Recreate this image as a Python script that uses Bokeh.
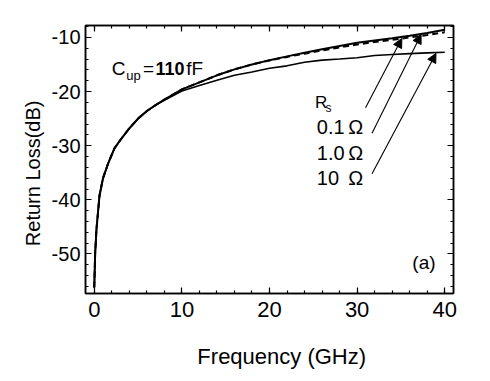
import math
from bokeh.plotting import figure
from bokeh.models import (Range1d, FixedTicker, LinearAxis, Label, Arrow, NormalHead)
from bokeh.embed import file_html
from bokeh.resources import INLINE

# ---- data ----
freq = [0, 0.1, 0.25, 0.6, 1.0, 1.6, 2.3, 3.0, 4.0, 5.0, 6.0, 7.0, 8.0,
        10, 12, 14, 16, 18, 20, 22, 24, 26, 28, 30, 32, 34, 36, 38, 40]
rl_rs01 = [-56.2, -50.0, -45.5, -39.2, -36.0, -33.2, -30.5, -28.9, -26.8, -25.0, -23.6, -22.5, -21.5,
           -19.6, -18.3, -17.0, -15.9, -15.0, -14.2, -13.5, -12.85, -12.2, -11.6, -11.0, -10.55, -10.15, -9.7, -9.2, -8.6]
rl_rs1 = [-56.2, -50.0, -45.5, -39.2, -36.0, -33.2, -30.5, -28.9, -26.8, -25.0, -23.6, -22.5, -21.5,
          -19.6, -18.3, -17.0, -15.9, -15.0, -14.25, -13.6, -13.0, -12.4, -11.85, -11.3, -10.85, -10.45, -10.0, -9.55, -9.05]
rl_rs10 = [-56.2, -50.0, -45.5, -39.2, -36.0, -33.2, -30.5, -28.9, -26.8, -25.0, -23.6, -22.5, -21.6,
           -19.9, -18.9, -17.9, -17.0, -16.4, -15.7, -15.25, -14.6, -14.2, -14.0, -13.75, -13.35, -13.15, -13.0, -12.85, -12.75]

x_ticks = [0, 10, 20, 30, 40]
y_ticks = [-50, -40, -30, -20, -10]
x_minor = [0, 2, 4, 6, 8, 10, 12, 14, 16, 18, 20, 22, 24, 26, 28, 30, 32, 34, 36, 38, 40]
y_minor = [-56, -54, -52, -50, -48, -46, -44, -42, -40, -38, -36, -34, -32, -30, -28, -26, -24, -22, -20, -18, -16, -14, -12, -10, -8]
y_tick_text = ["-50", "-40", "-30", "-20", "-10"]

rs_labels = ["0.1", "1.0", "10"]
# arrows: (tail_f, tail_dB, head_f, head_dB)
arrow_tail_f = [30.96, 31.7, 31.7]
arrow_tail_db = [-23.0, -27.7, -35.2]
arrow_head_f = [35.1, 37.3, 39.0]
arrow_head_db = [-10.2, -9.45, -12.96]

FONT = "Liberation Sans"
NB = "\u00a0"

p = figure(width=482, height=373, output_backend="svg", toolbar_location=None,
           x_range=Range1d(-1.0, 41.0), y_range=Range1d(-57.3, -7.8),
           min_border_left=85, min_border_right=29, min_border_top=25, min_border_bottom=80)
p.grid.visible = False
p.outline_line_color = "black"
p.outline_line_width = 1.5
p.background_fill_color = "white"
p.border_fill_color = "white"

def style_axis(ax, ticks, minor, show_labels, font_size, standoff):
    ax.ticker = FixedTicker(ticks=ticks, minor_ticks=minor)
    ax.major_tick_in = 6
    ax.major_tick_out = 0
    ax.minor_tick_in = 3
    ax.minor_tick_out = 0
    ax.major_tick_line_color = "black"
    ax.minor_tick_line_color = "black"
    ax.major_tick_line_width = 1.2
    ax.minor_tick_line_width = 1.2
    ax.axis_line_color = "black"
    ax.axis_line_width = 1.5
    if show_labels:
        ax.major_label_text_font = FONT
        ax.major_label_text_font_size = font_size
        ax.major_label_text_color = "black"
        ax.major_label_standoff = standoff
    else:
        ax.major_label_text_color = None
        ax.major_label_text_font_size = "1px"

style_axis(p.xaxis[0], x_ticks, x_minor, True, "22px", 8)
style_axis(p.yaxis[0], y_ticks, y_minor, True, "20px", 5)
p.yaxis[0].major_label_overrides = {t: s for t, s in zip(y_ticks, y_tick_text)}
p.yaxis[0].axis_label = "Return Loss(dB)" + NB * 5
p.yaxis[0].axis_label_text_font = FONT
p.yaxis[0].axis_label_text_font_size = "20px"
p.yaxis[0].axis_label_text_font_style = "normal"
p.yaxis[0].axis_label_text_color = "black"
p.yaxis[0].axis_label_standoff = 5

p.xaxis[0].axis_label = NB * 4 + "Frequency (GHz)"
p.xaxis[0].axis_label_text_font = FONT
p.xaxis[0].axis_label_text_font_size = "22px"
p.xaxis[0].axis_label_text_font_style = "normal"
p.xaxis[0].axis_label_text_color = "black"
p.xaxis[0].axis_label_standoff = 24

top = LinearAxis()
right = LinearAxis()
style_axis(top, x_ticks, x_minor, False, "1px", 0)
style_axis(right, y_ticks, y_minor, False, "1px", 0)
p.add_layout(top, "above")
p.add_layout(right, "right")

# curves
p.line(freq, rl_rs01, line_color="black", line_width=2)
p.line(freq, rl_rs1, line_color="black", line_width=2, line_dash="6 4")
p.line(freq, rl_rs10, line_color="black", line_width=1.6)

# arrows
for tf, td, hf, hd in zip(arrow_tail_f, arrow_tail_db, arrow_head_f, arrow_head_db):
    p.add_layout(Arrow(end=NormalHead(size=9, fill_color="black", line_color="black"),
                       x_start=tf, y_start=td, x_end=hf, y_end=hd,
                       line_color="black", line_width=1.1))

def lab(x, y, t, size, style="normal", align="left", baseline="alphabetic", angle=0):
    p.add_layout(Label(x=x, y=y, text=t, text_font=FONT, text_font_size=size,
                       text_font_style=style, text_align=align, text_baseline=baseline,
                       text_color="black", angle=angle))

# C_up = 110 fF
lab(2.0, -15.8, "C", "19px")
lab(3.65, -17.0, "up", "13px")
lab(5.55, -15.8, "=", "19px")
lab(7.0, -15.8, "110", "18px", style="bold")
lab(10.5, -15.8, "fF", "19px")

# R_s legend
lab(25.2, -21.96, "R", "17px")
lab(26.4, -23.0, "s", "12px")
rs_y = [-26.6, -31.26, -35.9]
for t, yy in zip(rs_labels, rs_y):
    lab(25.4, yy, t, "20px")
    lab(29.0, yy, "\u03a9", "20px")

lab(36.3, -51.6, "(a)", "19px")

open("out.html", "w").write(file_html(p, INLINE))
